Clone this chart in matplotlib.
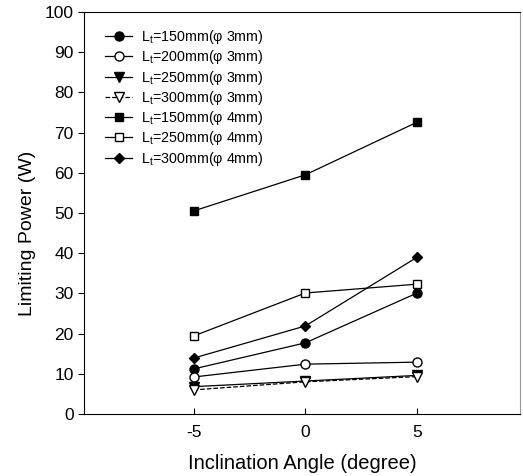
import matplotlib.pyplot as plt

plt.rcParams['font.family'] = ['Liberation Sans', 'DejaVu Sans']
plt.rcParams['mathtext.fontset'] = 'custom'
plt.rcParams['mathtext.rm'] = 'Liberation Sans'
plt.rcParams['axes.unicode_minus'] = False

angles = [-5, 0, 5]

p150_d3 = [11.2, 17.7, 30.1]
p200_d3 = [9.2, 12.4, 12.9]
p250_d3 = [6.8, 8.2, 9.6]
p300_d3 = [6.0, 8.0, 9.3]
p150_d4 = [50.5, 59.5, 72.6]
p250_d4 = [19.4, 30.1, 32.3]
p300_d4 = [13.9, 21.9, 39.0]

labels = ['L$_{\\rm t}$=150mm(\u03c6 3mm)',
          'L$_{\\rm t}$=200mm(\u03c6 3mm)',
          'L$_{\\rm t}$=250mm(\u03c6 3mm)',
          'L$_{\\rm t}$=300mm(\u03c6 3mm)',
          'L$_{\\rm t}$=150mm(\u03c6 4mm)',
          'L$_{\\rm t}$=250mm(\u03c6 4mm)',
          'L$_{\\rm t}$=300mm(\u03c6 4mm)']

fig = plt.figure(figsize=(5.23, 4.76), dpi=100)
ax = fig.add_axes([84 / 523, 62 / 476, 436 / 523, 402 / 476])

ms = 6.5
ax.plot(angles, p150_d3, '-o', color='black', mfc='black', ms=ms, lw=0.9, label=labels[0])
ax.plot(angles, p200_d3, '-o', color='black', mfc='white', ms=ms, lw=0.9, label=labels[1])
ax.plot(angles, p250_d3, '-v', color='black', mfc='black', ms=ms, lw=0.9, label=labels[2])
ax.plot(angles, p300_d3, '--v', color='black', mfc='white', ms=ms, lw=0.9, label=labels[3])
ax.plot(angles, p150_d4, '-s', color='black', mfc='black', ms=6, lw=0.9, label=labels[4])
ax.plot(angles, p250_d4, '-s', color='black', mfc='white', ms=6, lw=0.9, label=labels[5])
ax.plot(angles, p300_d4, '-D', color='black', mfc='black', ms=5.5, lw=0.9, label=labels[6])

ax.set_xlim(-9.9, 9.6)
ax.set_ylim(0, 100)
ax.set_xticks([-5, 0, 5])
ax.set_yticks(range(0, 101, 10))
ax.tick_params(axis='x', direction='in', length=4, labelsize=12.5, pad=8)
ax.tick_params(axis='y', direction='out', length=4, labelsize=12.5)
ax.spines['right'].set_color('#999999')
ax.set_xlabel('Inclination Angle (degree)', fontsize=14.5, labelpad=10)
ax.set_ylabel('Limiting Power (W)', fontsize=14)
ax.yaxis.set_label_coords(-0.11, 0.45)

ax.legend(loc='upper left', frameon=False, fontsize=10.3, handlelength=1.9,
          labelspacing=0.16, handletextpad=0.6, borderaxespad=0.3,
          bbox_to_anchor=(0.025, 0.985))

fig.savefig('out.png', dpi=100)
